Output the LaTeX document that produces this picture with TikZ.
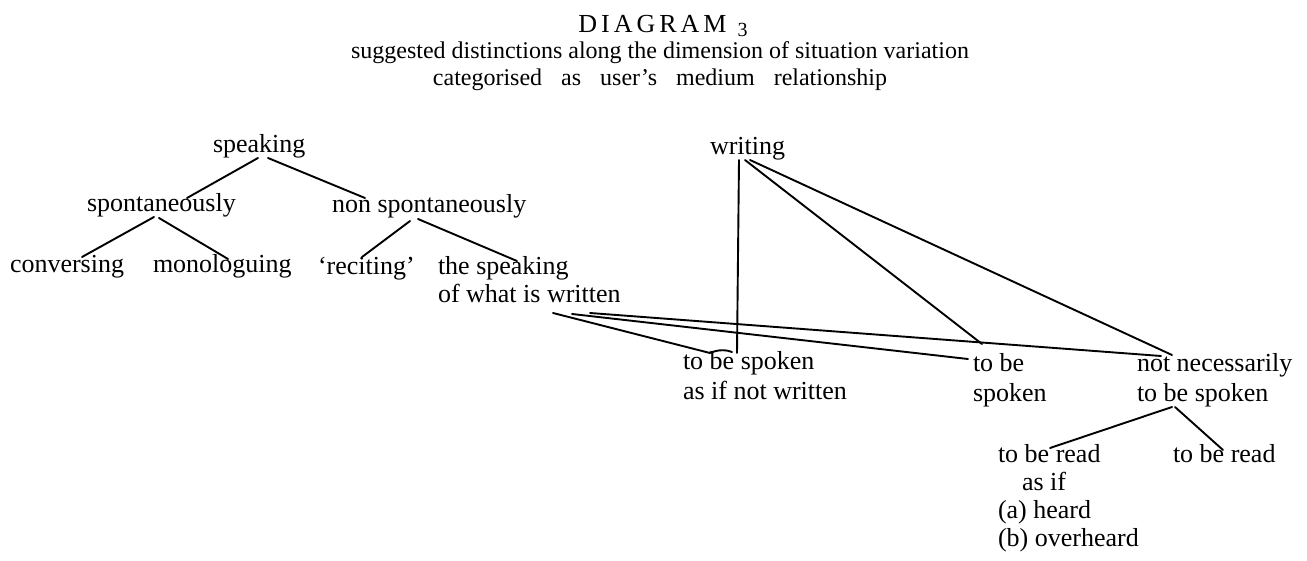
\documentclass[tikz,border=0pt]{standalone}
\usepackage{fontspec}
\setmainfont{Liberation Serif}
\usetikzlibrary{calc}
\newcommand\ml[1]{\begin{tabular}[t]{@{}l@{}}#1\end{tabular}}
\newcommand\wsp{\hspace{19pt}}
\begin{document}
\begin{tikzpicture}[x=1pt,y=-1pt,
  lbl/.style={anchor=base west,inner sep=0pt,outer sep=0pt,font=\fontsize{26}{28}\selectfont},
  ttl/.style={anchor=base,inner sep=0pt,outer sep=0pt,font=\fontsize{24}{26}\selectfont},
  edge/.style={line width=1.9pt,line cap=round,line join=round}]
\useasboundingbox (0,0) rectangle (1307,561);
% title
\node[ttl,font=\fontsize{26}{28}\selectfont] (title) at (663,33)
  {D\kern4pt I\kern4pt A\kern4pt G\kern4pt R\kern4pt A\kern4pt M\kern11pt\raisebox{-4pt}{\fontsize{20}{20}\selectfont 3}};
\node[ttl] (sub1) at (660,59) {suggested distinctions along the dimension of situation variation};
\node[ttl] (sub2) at (660,86) {categorised\wsp as\wsp user’s\wsp medium\wsp relationship};
% nodes
\node[lbl] (speaking) at (213,153) {speaking};
\node[lbl] (writing) at (710,155) {writing};
\node[lbl] (spont) at (87,212) {spontaneously};
\node[lbl] (nonspont) at (332,213) {non spontaneously};
\node[lbl] (conv) at (10,273) {conversing};
\node[lbl] (mono) at (153,273) {monologuing};
\node[lbl] (recit) at (318,275) {‘reciting’};
\node[lbl] (speakwrit) at (438,275) {\ml{the speaking\\of what is written}};
\node[lbl] (asif) at (683,370) {\ml{to be spoken\\[2pt]as if not written}};
\node[lbl] (tobe) at (973,372) {\ml{to be\\[2pt]spoken}};
\node[lbl] (notnec) at (1137,372) {\ml{not necessarily\\[2pt]to be spoken}};
\node[lbl] (readasif) at (998,462) {\ml{to be read\\\hspace{24pt}as if\\(a) heard\\(b) overheard}};
\node[lbl] (read) at (1173,462) {to be read};
% connectors
\draw[edge] ([shift={(45,5)}]speaking.base west) -- ([shift={(100,-14)}]spont.base west);
\draw[edge] ([shift={(55,5)}]speaking.base west) -- ([shift={(33,-15)}]nonspont.base west);
\draw[edge] ([shift={(67,5)}]spont.base west) -- ([shift={(72,-16)}]conv.base west);
\draw[edge] ([shift={(72,6)}]spont.base west) -- ([shift={(75,-14)}]mono.base west);
\draw[edge] ([shift={(78,8)}]nonspont.base west) -- ([shift={(44,-18)}]recit.base west);
\draw[edge] ([shift={(86,6)}]nonspont.base west) -- ([shift={(79,-14)}]speakwrit.base west);
\draw[edge] ([shift={(115,38)}]speakwrit.base west) -- ([shift={(27,-17)}]asif.base west)
  .. controls ([shift={(36,-21)}]asif.base west) and ([shift={(44,-20)}]asif.base west) .. ([shift={(49,-18)}]asif.base west);
\draw[edge] ([shift={(134,39)}]speakwrit.base west) -- ([shift={(-5,-13)}]tobe.base west);
\draw[edge] ([shift={(152,38)}]speakwrit.base west) -- ([shift={(24,-16)}]notnec.base west);
\draw[edge] ([shift={(29,5)}]writing.base west) -- ([shift={(54,-17)}]asif.base west);
\draw[edge] ([shift={(35,5)}]writing.base west) -- ([shift={(9,-28)}]tobe.base west);
\draw[edge] ([shift={(40,5)}]writing.base west) -- ([shift={(35,-17)}]notnec.base west);
\draw[edge] ([shift={(35,35)}]notnec.base west) -- ([shift={(52,-14)}]readasif.base west);
\draw[edge] ([shift={(38,35)}]notnec.base west) -- ([shift={(50,-12)}]read.base west);
\end{tikzpicture}
\end{document}
